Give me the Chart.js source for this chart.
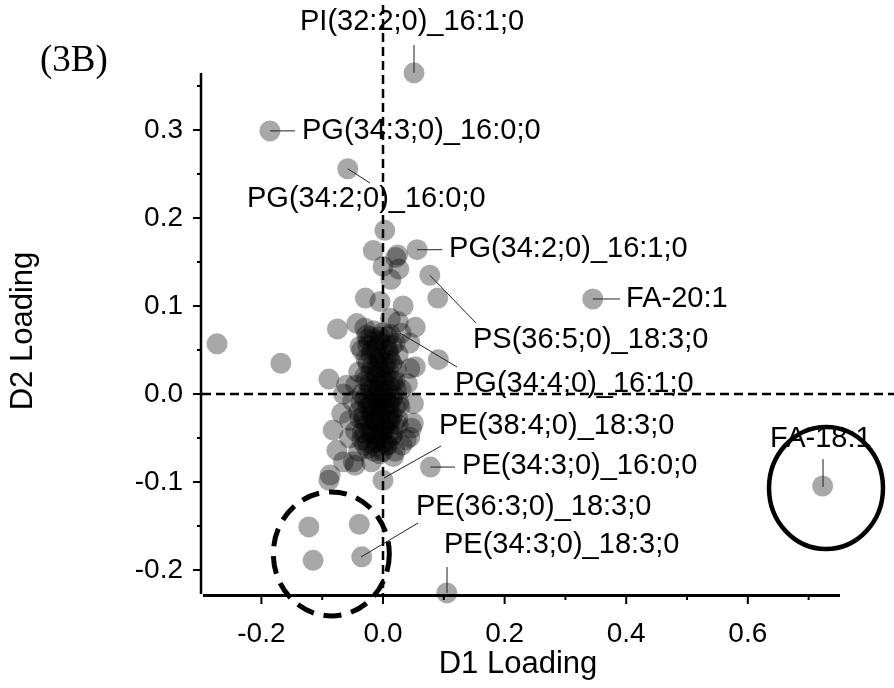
<!DOCTYPE html>
<html>
<head>
<meta charset="utf-8">
<script src="https://cdn.jsdelivr.net/npm/chart.js@4.4.1/dist/chart.umd.min.js"></script>
<style>
    body { margin: 0; background: #fff; }
    #wrap { width: 894px; height: 688px; }
</style>
</head>
<body>
<div id="wrap"><canvas id="chart" width="894" height="688"></canvas></div>
<script>
// Loadings (D1 = x, D2 = y)
// dense core around the origin
const coreD1 = [-0.030, -0.015, 0.000, 0.012, -0.025, -0.005, 0.020, -0.035, -0.012, 0.008, 0.025, -0.028, -0.008, 0.012, -0.018, 0.002, 0.022, -0.040,
    -0.030, -0.012, 0.005, 0.020, -0.045, -0.022, -0.005, 0.012, 0.030, -0.035, -0.015, 0.000, 0.018, -0.050, -0.025, -0.008, 0.010, 0.028,
    -0.040, -0.020, -0.003, 0.015, -0.055, -0.032, -0.012, 0.005, 0.025, -0.045, -0.022, -0.002, 0.015, -0.035, -0.012, 0.008, -0.025, -0.005, 0.020, -0.040,
    -0.010, -0.005, -0.015, 0.000, -0.010, -0.005, -0.020, 0.005, -0.012, 0.000, -0.008, -0.018, -0.030, 0.010, -0.020, 0.000, -0.015];
const coreD2 = [0.075, 0.072, 0.070, 0.068, 0.062, 0.060, 0.058, 0.050, 0.052, 0.050, 0.045, 0.040, 0.042, 0.038, 0.032, 0.030, 0.028, 0.025,
    0.020, 0.022, 0.020, 0.015, 0.010, 0.012, 0.010, 0.008, 0.005, 0.000, 0.002, 0.000, -0.002, -0.008, -0.008, -0.010, -0.012, -0.015,
    -0.020, -0.020, -0.022, -0.025, -0.030, -0.030, -0.032, -0.035, -0.035, -0.042, -0.042, -0.045, -0.048, -0.052, -0.055, -0.058, -0.062, -0.068, -0.065, -0.065,
    0.000, -0.015, -0.030, -0.040, 0.020, 0.040, -0.010, -0.005, -0.045, 0.015, 0.030, 0.050, -0.045, -0.030, 0.005, -0.055, 0.062];

// the black centre of the core
const centreD1 = [-0.020, -0.005, 0.008, -0.025, -0.010, 0.005, 0.015, -0.020, -0.005, 0.010, -0.025, -0.010, 0.005, 0.015, -0.020, -0.005, 0.010,
    -0.028, -0.012, 0.002, 0.016, -0.022, -0.008, 0.008, 0.022, -0.030, -0.015, 0.000, 0.015, -0.025, -0.010, 0.005, 0.020,
    -0.032, -0.018, -0.005, 0.010, -0.028, -0.012, 0.002, 0.018, -0.020, -0.005, 0.010, -0.025, -0.010, 0.005, -0.015, 0.000,
    -0.036, -0.020, -0.004, 0.012, 0.026, -0.038, -0.022, -0.006, 0.012, 0.024, -0.034, -0.016, 0.000, 0.016, -0.030, -0.012, 0.006];
const centreD2 = [0.065, 0.065, 0.065, 0.055, 0.055, 0.055, 0.055, 0.045, 0.045, 0.045, 0.035, 0.035, 0.035, 0.035, 0.025, 0.025, 0.025,
    0.015, 0.015, 0.015, 0.015, 0.005, 0.005, 0.005, 0.005, -0.005, -0.005, -0.005, -0.005, -0.015, -0.015, -0.015, -0.015,
    -0.025, -0.025, -0.025, -0.025, -0.035, -0.035, -0.035, -0.035, -0.045, -0.045, -0.045, -0.055, -0.055, -0.055, -0.065, -0.065,
    -0.010, -0.012, -0.010, -0.012, -0.010, -0.028, -0.030, -0.028, -0.030, -0.028, -0.044, -0.046, -0.044, -0.046, -0.058, -0.060, -0.058];

// spread around the core
const spreadD1 = [0.003, -0.016, 0.021, 0.024, 0.026, 0.000, 0.013, -0.029, -0.005, 0.033, -0.075, -0.043, 0.012, 0.053, -0.027, 0.044, -0.038,
    0.091, 0.053, 0.044, -0.065, 0.050, -0.082, -0.068, 0.050, 0.044, -0.076, -0.049, -0.087, 0.017, 0.031, -0.046, -0.065, -0.019,
    0.047, 0.038, 0.000, -0.089, 0.090, 0.025, 0.030, -0.060, 0.040, -0.055];
const spreadD2 = [0.186, 0.163, 0.155, 0.158, 0.142, 0.145, 0.130, 0.109, 0.105, 0.100, 0.074, 0.080, 0.086, 0.076, 0.067, 0.058, 0.054,
    0.039, 0.031, 0.029, 0.000, -0.011, -0.041, -0.022, -0.033, -0.049, -0.064, -0.077, -0.092, -0.071, -0.058, -0.081, -0.077, -0.077,
    -0.039, -0.052, -0.098, -0.098, 0.109, 0.082, 0.069, 0.010, 0.012, -0.050];

// isolated points
const outlierD1 = [0.051, -0.186, -0.058, 0.056, 0.077, 0.345, -0.273, -0.168, -0.089, 0.078, 0.723, -0.122, -0.039, -0.115, -0.035, 0.105];
const outlierD2 = [0.365, 0.299, 0.256, 0.164, 0.135, 0.108, 0.057, 0.035, 0.017, -0.083, -0.1045, -0.151, -0.148, -0.189, -0.185, -0.226];

const xTicks = [-0.2, -0.1, 0.0, 0.1, 0.2, 0.3, 0.4, 0.5, 0.6, 0.7];
const yTicks = [-0.2, -0.15, -0.1, -0.05, 0.0, 0.05, 0.1, 0.15, 0.2, 0.25, 0.3, 0.35];
const xMin = -0.2977, xMax = 0.7516, yMin = -0.2284, yMax = 0.3648;

// callouts: point, end of leader, left/middle of text
const callouts = [
    { text: "PI(32:2;0)_16:1;0", p: [0.051, 0.365], l: [0.051, 0.3966], t: [-0.1365, 0.4227] },
    { text: "PG(34:3;0)_16:0;0", p: [-0.186, 0.299], l: [-0.1447, 0.299], t: [-0.1332, 0.2989] },
    { text: "PG(34:2;0)_16:0;0", p: [-0.058, 0.256], l: [-0.0214, 0.2398], t: [-0.2237, 0.2216] },
    { text: "PG(34:2;0)_16:1;0", p: [0.056, 0.164], l: [0.097, 0.164], t: [0.1086, 0.1648] },
    { text: "FA-20:1", p: [0.345, 0.108], l: [0.3898, 0.108], t: [0.3997, 0.108] },
    { text: "PS(36:5;0)_18:3;0", p: [0.077, 0.135], l: [0.153, 0.0807], t: [0.148, 0.0614] },
    { text: "PG(34:4;0)_16:1;0", p: [0.028, 0.0693], l: [0.1217, 0.0307], t: [0.1184, 0.0114] },
    { text: "PE(38:4;0)_18:3;0", p: [0.0016, -0.0955], l: [0.0954, -0.0591], t: [0.0921, -0.0364] },
    { text: "PE(34:3;0)_16:0;0", p: [0.078, -0.083], l: [0.1184, -0.083], t: [0.13, -0.0818] },
    { text: "PE(36:3;0)_18:3;0", p: [-0.0362, -0.1852], l: [0.0576, -0.1466], t: [0.0543, -0.1284] },
    { text: "PE(34:3;0)_18:3;0", p: [0.1053, -0.2261], l: [0.1053, -0.1966], t: [0.1003, -0.1716] },
    { text: "FA-18:1", p: [0.7237, -0.1057], l: [0.7237, -0.0739], t: [0.6365, -0.0511] }
];

const points = [];
[[coreD1, coreD2], [centreD1, centreD2], [spreadD1, spreadD2], [outlierD1, outlierD2]].forEach(([xs, ys]) => {
    xs.forEach((x, i) => points.push({ x: x, y: ys[i] }));
});

const sans = "'Liberation Sans', Arial, sans-serif";

const overlay = {
    id: "overlay",
    afterDatasetsDraw(chart) {
        const ctx = chart.ctx;
        const X = v => chart.scales.x.getPixelForValue(v);
        const Y = v => chart.scales.y.getPixelForValue(v);
        ctx.save();
        ctx.strokeStyle = "#000";
        ctx.fillStyle = "#000";

        // zero lines
        ctx.lineWidth = 2.5;
        ctx.setLineDash([9, 5]);
        ctx.beginPath();
        ctx.moveTo(X(0), 5);
        ctx.lineTo(X(0), Y(yMin));
        ctx.moveTo(X(xMin), Y(0));
        ctx.lineTo(894, Y(0));
        ctx.stroke();
        ctx.setLineDash([]);

        // leader lines
        ctx.lineWidth = 1;
        ctx.strokeStyle = "#222";
        callouts.forEach(c => {
            ctx.beginPath();
            ctx.moveTo(X(c.p[0]), Y(c.p[1]));
            ctx.lineTo(X(c.l[0]), Y(c.l[1]));
            ctx.stroke();
        });

        ctx.font = "29px " + sans;
        ctx.textBaseline = "middle";
        ctx.textAlign = "left";
        callouts.forEach(c => ctx.fillText(c.text, X(c.t[0]), Y(c.t[1])));

        // group circles
        ctx.strokeStyle = "#000";
        ctx.lineWidth = 5;
        ctx.setLineDash([18, 10]);
        ctx.beginPath();
        ctx.ellipse(X(-0.085), Y(-0.1817), 58, 62, 0, 0, Math.PI * 2);
        ctx.stroke();
        ctx.setLineDash([]);
        ctx.lineWidth = 4.5;
        ctx.beginPath();
        ctx.ellipse(X(0.7286), Y(-0.1068), 57, 61, 0, 0, Math.PI * 2);
        ctx.stroke();

        // axes
        const left = X(xMin), bottom = Y(yMin);
        ctx.lineWidth = 2.5;
        ctx.beginPath();
        ctx.moveTo(left - 1, Y(yMax));
        ctx.lineTo(left - 1, bottom - 1);
        ctx.stroke();
        ctx.lineWidth = 3;
        ctx.beginPath();
        ctx.moveTo(left + 1, bottom + 0.5);
        ctx.lineTo(X(xMax), bottom + 0.5);
        ctx.stroke();

        ctx.lineWidth = 2;
        ctx.beginPath();
        xTicks.forEach(v => {
            const len = Math.round(v * 10) % 2 === 0 ? 9 : 5;
            ctx.moveTo(X(v), bottom);
            ctx.lineTo(X(v), bottom + len);
        });
        yTicks.forEach(v => {
            const len = Math.round(v * 100) % 10 === 0 ? 9 : 5;
            ctx.moveTo(left, Y(v));
            ctx.lineTo(left - len, Y(v));
        });
        ctx.stroke();

        // titles
        ctx.textAlign = "center";
        ctx.font = "31px " + sans;
        ctx.fillText("D1 Loading", 518, 664);
        ctx.save();
        ctx.translate(23, 331);
        ctx.rotate(-Math.PI / 2);
        ctx.fillText("D2 Loading", 0, 0);
        ctx.restore();

        ctx.textAlign = "left";
        ctx.font = "37px 'Liberation Serif', 'Times New Roman', serif";
        ctx.fillText("(3B)", 40, 61);
        ctx.restore();
    }
};

new Chart(document.getElementById("chart").getContext("2d"), {
    type: "scatter",
    data: {
        datasets: [{
            data: points,
            pointRadius: 10.5,
            pointHoverRadius: 10.5,
            backgroundColor: "rgba(0, 0, 0, 0.34)",
            borderWidth: 0,
            clip: false
        }]
    },
    options: {
        responsive: false,
        animation: false,
        devicePixelRatio: 1,
        layout: { padding: { left: 0, top: 73, right: 54, bottom: 0 } },
        plugins: { legend: { display: false }, tooltip: { enabled: false } },
        scales: {
            x: {
                type: "linear", min: xMin, max: xMax,
                grid: { display: false }, border: { display: false },
                afterBuildTicks: s => { s.ticks = xTicks.map(v => ({ value: v })); },
                afterFit: s => { s.height = 93; },
                ticks: {
                    autoSkip: false, maxRotation: 0, padding: 14, color: "#000",
                    font: { family: sans, size: 28 },
                    callback: v => Math.round(v * 10) % 2 === 0 ? v.toFixed(1) : ""
                }
            },
            y: {
                type: "linear", min: yMin, max: yMax,
                grid: { display: false }, border: { display: false },
                afterBuildTicks: s => { s.ticks = yTicks.map(v => ({ value: v })); },
                afterFit: s => { s.width = 202; },
                ticks: {
                    autoSkip: false, padding: 11, color: "#000",
                    font: { family: sans, size: 28 },
                    callback: v => Math.round(v * 100) % 10 === 0 ? v.toFixed(1) : ""
                }
            }
        }
    },
    plugins: [overlay]
});
</script>
</body>
</html>
